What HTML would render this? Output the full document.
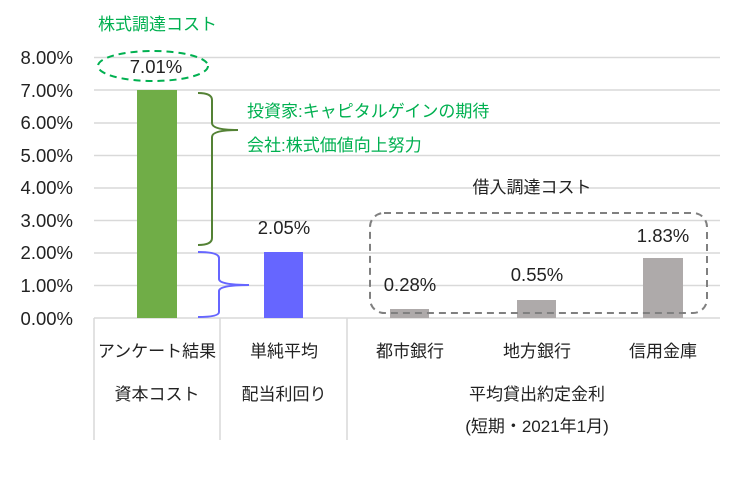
<!DOCTYPE html>
<html><head><meta charset="utf-8"><style>
body{margin:0;background:#fff;}
svg text{font-family:"Liberation Sans","Noto Sans CJK JP",sans-serif;}
</style></head><body>
<svg width="750" height="482" viewBox="0 0 750 482" xmlns="http://www.w3.org/2000/svg">
<g stroke="#d9d9d9" stroke-width="1.5">
<line x1="94" y1="57.5" x2="720" y2="57.5"/>
<line x1="94" y1="90" x2="720" y2="90"/>
<line x1="94" y1="123" x2="720" y2="123"/>
<line x1="94" y1="155.5" x2="720" y2="155.5"/>
<line x1="94" y1="188" x2="720" y2="188"/>
<line x1="94" y1="220.5" x2="720" y2="220.5"/>
<line x1="94" y1="253" x2="720" y2="253"/>
<line x1="94" y1="285.5" x2="720" y2="285.5"/>
<line x1="94" y1="318" x2="720" y2="318"/>
<line x1="94" y1="318" x2="94" y2="440"/>
<line x1="220" y1="318" x2="220" y2="440"/>
<line x1="347" y1="318" x2="347" y2="440"/>
</g>
<g font-size="18.5" fill="#222" text-anchor="end">
<text x="73" y="64">8.00%</text><text x="73" y="97">7.00%</text><text x="73" y="129">6.00%</text>
<text x="73" y="162">5.00%</text><text x="73" y="194">4.00%</text><text x="73" y="227">3.00%</text>
<text x="73" y="259">2.00%</text><text x="73" y="292">1.00%</text><text x="73" y="325">0.00%</text>
</g>
<rect x="137" y="90" width="40" height="228" fill="#70ad47"/>
<rect x="264" y="252" width="39" height="66" fill="#6666ff"/>
<rect x="390" y="309" width="39" height="9" fill="#aeaaaa"/>
<rect x="517" y="300" width="39" height="18" fill="#aeaaaa"/>
<rect x="643" y="258" width="40" height="60" fill="#aeaaaa"/>
<ellipse cx="153" cy="66" rx="55" ry="15" fill="none" stroke="#00b050" stroke-width="2" stroke-dasharray="7,5"/>
<rect x="370" y="213" width="337" height="100" rx="14" fill="none" stroke="#808080" stroke-width="2" stroke-dasharray="7,5"/>
<path d="M198,93 Q212,93 212,100 L212,123 Q212,130 238,130 Q212,130 212,137 L212,238 Q212,245 198,245" fill="none" stroke="#548235" stroke-width="2"/>
<path d="M198,252 Q219,252 219,258 L219,279 Q219,285 249,285 Q219,285 219,291 L219,312 Q219,317 198,317" fill="none" stroke="#6666ff" stroke-width="2"/>
<g font-size="18.5" fill="#222">
<text x="156" y="73" text-anchor="middle">7.01%</text>
<text x="284" y="234" text-anchor="middle">2.05%</text>
<text x="410" y="291" text-anchor="middle">0.28%</text>
<text x="537" y="281" text-anchor="middle">0.55%</text>
<text x="663" y="242" text-anchor="middle">1.83%</text>
</g>
<text x="532" y="193" text-anchor="middle" font-size="17" fill="#222">借入調達コスト</text>
<g font-size="17" fill="#00b050">
<text x="98" y="30">株式調達コスト</text>
<text x="247" y="117">投資家:キャピタルゲインの期待</text>
<text x="247" y="151">会社:株式価値向上努力</text>
</g>
<g font-size="17" fill="#222" text-anchor="middle">
<text x="157" y="357">アンケート結果</text>
<text x="157" y="400">資本コスト</text>
<text x="284" y="357">単純平均</text>
<text x="284" y="400">配当利回り</text>
<text x="410" y="357">都市銀行</text>
<text x="537" y="357">地方銀行</text>
<text x="663" y="357">信用金庫</text>
<text x="537" y="400">平均貸出約定金利</text>
<text x="537" y="432">(短期・2021年1月)</text>
</g>
</svg>
</body></html>
